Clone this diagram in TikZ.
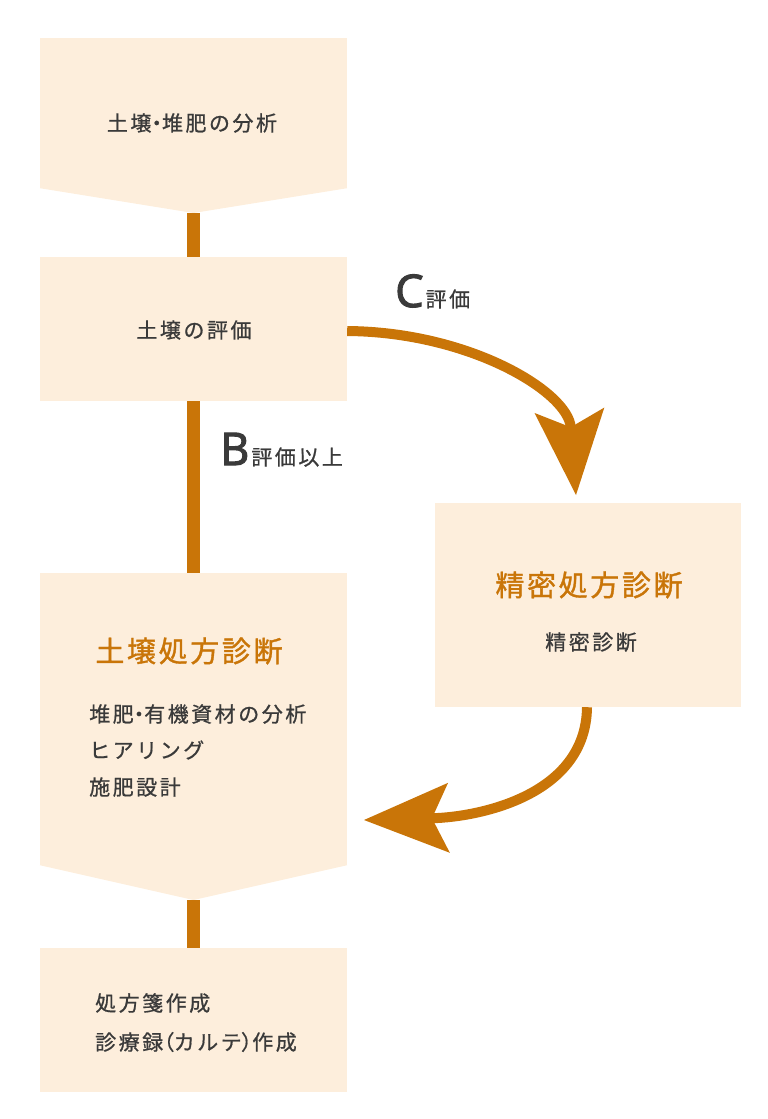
\documentclass[tikz,border=0pt]{standalone}
\usepackage{fontspec}
\setmainfont{Noto Sans CJK JP}
\newfontfamily\jp[LetterSpace=12,FakeBold=0.8]{Noto Sans CJK JP}
\newfontfamily\jpp[RawFeature=+palt,LetterSpace=12,FakeBold=0.8]{Noto Sans CJK JP}
\newfontfamily\jpt[LetterSpace=9,FakeBold=1.2]{Noto Sans CJK JP}
\newfontfamily\lat[FakeBold=2.5]{Open Sans}
\usetikzlibrary{arrows.meta,calc}
\definecolor{boxfill}{HTML}{FDEEDC}
\definecolor{accent}{HTML}{C97508}
\definecolor{txt}{HTML}{3A3A3A}
\newcommand{\pp}[1]{{\jpp #1}}
\tikzset{
  box/.style={fill=boxfill, draw=none, inner sep=0pt, minimum width=307pt},
  bar/.style={draw=accent, line width=13pt},
  flow/.style={draw=accent, line width=10pt, -{Stealth[length=85pt,width=70pt,inset=17pt,line width=0pt]}},
  body/.style={text=txt, inner sep=0pt, font=\jp\fontsize{21}{24}\selectfont},
  title/.style={text=accent, inner sep=0pt, font=\jpt\fontsize{29}{32}\selectfont},
}
\begin{document}
\begin{tikzpicture}[x=1pt,y=-1pt]
\useasboundingbox (0,0) rectangle (768,1119);
% boxes
\node[box, minimum height=150pt] (b1) at (193.5,113) {};
\coordinate (p1) at (193.5,213);
\fill[boxfill] (b1.south west) -- (p1) -- (b1.south east) -- cycle;
\node[box, minimum height=144pt] (b2) at (193.5,329) {};
\node[box, minimum height=292pt] (b3) at (193.5,719) {};
\coordinate (p3) at (193.5,900);
\fill[boxfill] (b3.south west) -- (p3) -- (b3.south east) -- cycle;
\node[box, minimum height=144pt] (b4) at (193.5,1020) {};
\node[box, minimum width=306pt, minimum height=204pt] (b5) at (588,605) {};
% bars
\draw[bar] (p1) -- (b2.north);
\draw[bar] (b2.south) -- (b3.north);
\draw[bar] (p3) -- (b4.north);
% texts
\node[body] (t1) at (192,123) {土壌\pp{・}堆肥の分析};
\node[body] (t2) at (194,330) {土壌の評価};
\node[title] (h3) at (189,651) {土壌処方診断};
\node[body, anchor=west] (i1) at (89,714) {堆肥\pp{・}有機資材の分析};
\node[body, anchor=west] (i2) at (89,750) {ヒアリング};
\node[body, anchor=west] (i3) at (89,787) {施肥設計};
\node[body, anchor=west] (j1) at (95,1003) {処方箋作成};
\node[body, anchor=west] (j2) at (95,1042) {診療録\pp{（}カルテ\pp{）}作成};
\node[title] (h5) at (589,585) {精密処方診断};
\node[body] (t5) at (591,642) {精密診断};
% labels
\node[text=txt, inner sep=0pt, anchor=base west] (lb) at (220,465)
  {{\lat\fontsize{45}{45}\selectfont B}\hspace{2pt}{\jp\fontsize{21}{21}\selectfont 評価以上}};
\node[text=txt, inner sep=0pt, anchor=base west] (lc) at (395,307)
  {{\lat\fontsize{45}{45}\selectfont C}\hspace{2pt}{\jp\fontsize{21}{21}\selectfont 評価}};
% arrows
\coordinate (cEnd) at (576,495);
\coordinate (dEnd) at (364,820);
\draw[flow] ($(b2.east)+(0,2)$) .. controls (470,332) and (568,392) .. (cEnd);
\draw[flow] ($(b5.south)+(-1,0)$) .. controls (586,795) and (480,817) .. (dEnd);
\end{tikzpicture}
\end{document}
